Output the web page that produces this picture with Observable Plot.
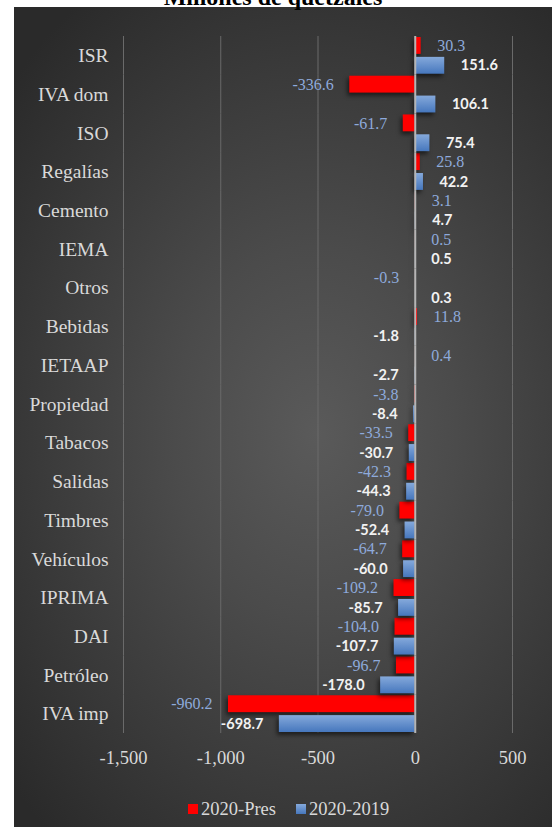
<!DOCTYPE html>
<html>
<head>
<meta charset="utf-8">
<script src="https://cdn.jsdelivr.net/npm/d3@7"></script>
<script src="https://cdn.jsdelivr.net/npm/@observablehq/plot@0.6"></script>
<style>
  body { margin: 0; background: #fff; }
  #wrap { position: relative; width: 552px; height: 827px; overflow: hidden; }
  #panel { position: absolute; left: 14px; top: 7px; right: 0; bottom: 0;
    background: radial-gradient(ellipse 75% 65% at 56% 52%, #5a5a5a 0%, #4b4b4b 35%, #2a2a2a 100%); }
  #title { position: absolute; left: 0; width: 546px; top: -15px; text-align: center;
    font: bold 24px/24px "Liberation Serif", serif; color: #000; z-index: 3; }
  #chart { position: absolute; left: 0; top: 0; z-index: 2; }
  #chart g[aria-label="fy-axis tick label"] text { font-size: 19.5px; }
  #legend { position: absolute; left: 188px; top: 797px; height: 24px; display: flex; align-items: center;
    font: 18.5px "Liberation Serif", serif; color: #d9d9d9; z-index: 2; }
  #legend .sw { width: 10px; height: 10px; display: inline-block; margin-right: 3px; }
  #legend .item { display: flex; align-items: center; margin-right: 20px; }
</style>
</head>
<body>
<div id="wrap">
  <div id="panel"></div>
  <div id="title">Millones de quetzales</div>
  <div id="chart"></div>
  <div id="legend"></div>
</div>
<script>
const categories = ["ISR", "IVA dom", "ISO", "Regalías", "Cemento", "IEMA", "Otros", "Bebidas", "IETAAP",
  "Propiedad", "Tabacos", "Salidas", "Timbres", "Vehículos", "IPRIMA", "DAI", "Petróleo", "IVA imp"];
const pres2020 = [30.3, -336.6, -61.7, 25.8, 3.1, 0.5, -0.3, 11.8, 0.4,
  -3.8, -33.5, -42.3, -79.0, -64.7, -109.2, -104.0, -96.7, -960.2];
const diff20202019 = [151.6, 106.1, 75.4, 42.2, 4.7, 0.5, 0.3, -1.8, -2.7,
  -8.4, -30.7, -44.3, -52.4, -60.0, -85.7, -107.7, -178.0, -698.7];
const seriesNames = ["2020-Pres", "2020-2019"];
const xTicks = [-1500, -1000, -500, 0, 500];

const rows = [];
categories.forEach((c, i) => {
  rows.push({cat: c, series: seriesNames[0], value: pres2020[i]});
  rows.push({cat: c, series: seriesNames[1], value: diff20202019[i]});
});

const fmt = v => v.toFixed(1);
const isRed = d => d.series === seriesNames[0];
const isBlue = d => d.series === seriesNames[1];
const shadow = "drop-shadow(-2px 3px 2px rgba(0,0,0,0.55))";

const chart = Plot.plot({
  width: 552,
  height: 780,
  marginLeft: 123,
  marginRight: 40,
  marginTop: 36,
  marginBottom: 47,
  style: {background: "transparent", color: "#d9d9d9", fontFamily: "'Liberation Serif', serif", fontSize: "18.5px"},
  facet: {data: rows, y: "cat"},
  fy: {domain: categories, padding: 0, round: false, label: null, tickSize: 0, tickPadding: 15},
  y: {domain: seriesNames, paddingInner: 0.15, paddingOuter: 0.05, round: false, axis: null},
  x: {domain: [-1500, 500], ticks: xTicks, tickFormat: d => d.toLocaleString("en-US"), tickSize: 0, tickPadding: 17, label: null},
  marks: [
    Plot.ruleX(xTicks, {stroke: "#6a6a6a", strokeWidth: 1}),
    Plot.barX(rows, {filter: isRed, x: "value", y: "series", fill: "#ff0000", imageFilter: shadow}),
    Plot.barX(rows, {filter: isBlue, x: "value", y: "series", fill: "url(#blueGrad)", imageFilter: shadow}),
    Plot.ruleX([0], {stroke: "#b5b5b5", strokeWidth: 2}),
    Plot.text(rows, {filter: d => isRed(d) && d.value >= 0, x: "value", y: "series", text: d => fmt(d.value),
      dx: 16, textAnchor: "start", fill: "#8eaadb", fontSize: 16}),
    Plot.text(rows, {filter: d => isRed(d) && d.value < 0, x: "value", y: "series", text: d => fmt(d.value),
      dx: -16, textAnchor: "end", fill: "#8eaadb", fontSize: 16}),
    Plot.text(rows, {filter: d => isBlue(d) && d.value >= 0, x: "value", y: "series", text: d => fmt(d.value),
      dx: 16, textAnchor: "start", fill: "#f2f2f2", fontFamily: "Lato", fontWeight: "bold", fontSize: 14.5}),
    Plot.text(rows, {filter: d => isBlue(d) && d.value < 0, x: "value", y: "series", text: d => fmt(d.value),
      dx: -16, textAnchor: "end", fill: "#f2f2f2", fontFamily: "Lato", fontWeight: "bold", fontSize: 14.5})
  ]
});

const defs = document.createElementNS("http://www.w3.org/2000/svg", "defs");
defs.innerHTML = '<linearGradient id="blueGrad" x1="0" y1="0" x2="0" y2="1">' +
  '<stop offset="0" stop-color="#85a9db"/><stop offset="1" stop-color="#4677bd"/></linearGradient>';
chart.insertBefore(defs, chart.firstChild);
document.getElementById("chart").appendChild(chart);

const legend = document.getElementById("legend");
[["#ff0000", seriesNames[0]], ["linear-gradient(#85a9db,#4677bd)", seriesNames[1]]].forEach(([c, name]) => {
  const item = document.createElement("span");
  item.className = "item";
  const sw = document.createElement("span");
  sw.className = "sw";
  sw.style.background = c;
  item.appendChild(sw);
  item.appendChild(document.createTextNode(name));
  legend.appendChild(item);
});
</script>
</body>
</html>
